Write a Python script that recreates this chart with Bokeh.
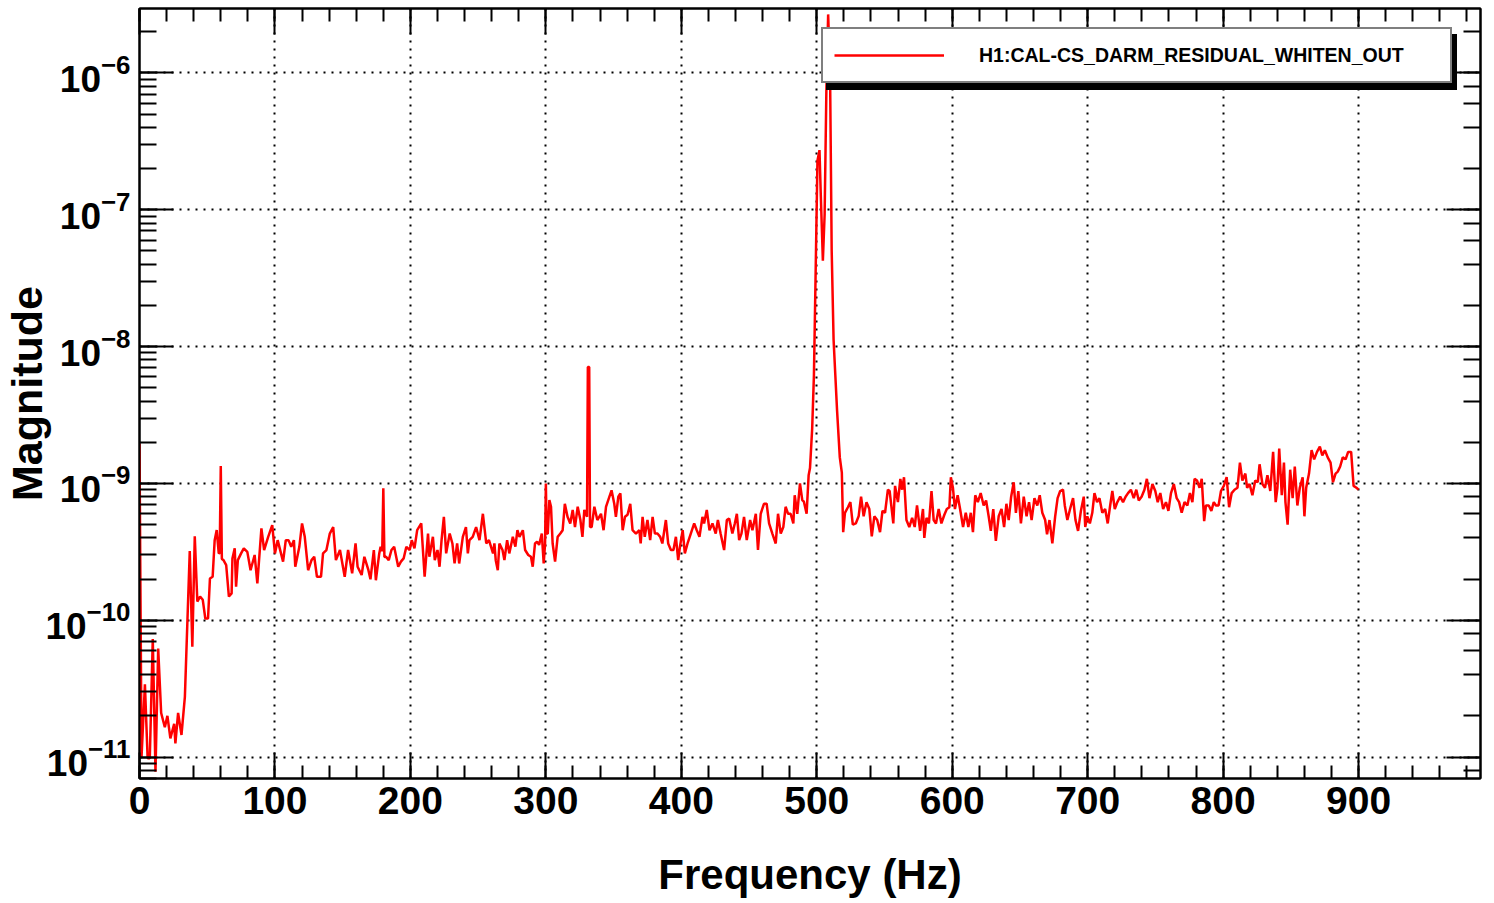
from bokeh.plotting import figure
from bokeh.models import (Range1d, LogAxis, LinearAxis, SingleIntervalTicker, LogTicker,
                          Legend, LegendItem, CustomJSTickFormatter)
from bokeh.embed import file_html
from bokeh.resources import INLINE

# ---------------- data ----------------
CHANNEL = "H1:CAL-CS_DARM_RESIDUAL_WHITEN_OUT"
X_TITLE = "Frequency (Hz)"
Y_TITLE = "Magnitude"
MAG_UNIT = 1e-10  # magnitudes below are in units of 1e-10

FREQ_LOW = [0, 1.5, 4, 6, 7.6, 9.8, 11.8, 13.8, 16, 18.7, 20.6, 22.8, 25.6, 26.5, 28.5, 31, 33.5,
            37.1, 39, 40.8, 42.7, 44.7, 46.7, 48.6, 50.6, 52, 54, 55.5, 57, 58.5, 59.2, 60, 60.8, 62,
            64, 66, 68, 68.6, 70.3, 71.3, 72.6, 75, 77, 79.6, 82, 85, 87, 90, 92, 95, 98, 100,
            102, 106, 108, 110, 112, 114, 115, 118, 120, 122, 124.5, 127, 129, 131, 134, 135.5,
            138, 140.5, 143, 145, 148, 151.5, 154, 157, 159.5, 161, 164, 166, 169, 170.5, 173,
            174.5, 177, 178, 179.2, 180, 180.8, 182, 184, 186, 188, 191, 193, 195, 197, 199.5,
            201, 203, 205, 208]
MAG_LOW = [19.6, 0.10, 0.34, 0.098, 0.098, 0.73, 0.078, 0.62, 0.21, 0.165, 0.20, 0.137, 0.175,
           0.126, 0.21, 0.145, 0.275, 3.2, 0.64, 4.1, 1.37, 1.49, 1.41, 1.03, 1.03, 2.02, 2.08,
           3.85, 4.56, 3.08, 3.1, 13.4, 2.8, 2.75, 2.53, 1.49, 1.57, 2.83, 3.35, 1.76, 2.75, 3.08,
           3.35, 3.16, 2.32, 3.0, 1.86, 4.7, 3.26, 4.07, 4.96, 3.08, 3.85, 2.68, 3.85, 3.85, 3.44,
           3.85, 2.46, 3.44, 5.1, 4.07, 2.32, 2.75, 2.91, 2.08, 2.08, 3.08, 3.26, 4.3, 4.8, 2.75,
           3.26, 2.08, 3.26, 2.2, 3.64, 2.46, 2.14, 2.91, 2.32, 1.99, 3.26, 1.96, 3.08, 3.44,
           3.2, 9.2, 2.9, 2.91, 2.75, 3.26, 3.44, 2.46, 2.68, 2.83, 3.44, 3.26, 3.85, 3.35, 4.56,
           5.1]

FREQ_MID = [210.5, 213, 214, 216.6, 218, 220, 221.5, 223, 224.7, 226.4, 229, 231, 232.6, 234.5,
            236, 238.7, 241, 242.4, 243.6, 246, 248.5, 251, 253.5, 256, 258, 261, 262, 263, 264.5,
            265.7, 268, 269.4, 271.4, 273, 275.6, 277.5, 279, 280.5, 283, 284.7, 287, 289, 290.3,
            292, 293.5, 295, 297, 298.4, 299.4, 300, 300.6, 301.4, 302.6, 303.8, 305, 306.8,
            308.7, 310.7, 312.4, 314, 316, 318, 319.8, 321.5, 323.5, 325.5, 327, 328.4, 330.4,
            331, 332, 332.6, 333.8, 335.8, 338, 340.7, 342.6, 344.4, 346.8, 348.5, 350.5, 351.7,
            353.5, 355, 356.7, 358.4, 360.3, 362.3, 364, 366.5, 369, 370, 371.4, 373, 375, 377,
            378.8, 380.5, 382.4, 384.4, 386, 388.6, 390.3, 392.3, 394.2, 396, 397.7, 399, 401,
            402.6, 404.6, 407, 409.5, 411.4, 413.4, 415.6, 416.8, 418.8, 420.8, 423, 425.4, 427,
            429, 431.6, 433.6, 435.3, 437.7, 439.5, 441, 442.7, 444.4, 446.3, 448.3, 450.8, 452.5,
            455, 456.6, 458.6, 461, 463, 464.8, 467.2, 469.7, 471.4, 473.4, 475.3, 477, 478.8,
            480.7, 482.7, 483.7, 485.6, 487.6, 489.3, 490.5, 492.5]
MAG_MID = [2.08, 4.3, 2.91, 4.07, 2.75, 3.26, 2.46, 3.85, 5.7, 3.08, 4.3, 3.64, 2.6, 3.64, 2.6,
           4.07, 4.8, 3.08, 3.85, 4.07, 4.8, 3.85, 6.0, 3.64, 3.85, 3.08, 3.64, 2.75, 2.32, 3.64,
           3.26, 2.75, 3.85, 3.08, 4.07, 3.45, 4.55, 4.07, 4.55, 3.26, 3.0, 2.91, 2.46, 3.64,
           3.75, 3.55, 4.3, 2.6, 3.6, 10.0, 4.3, 4.3, 7.55, 6.75, 3.64, 2.68, 4.07, 4.3, 4.55,
           7.1, 5.7, 5.1, 6.4, 4.8, 6.75, 5.4, 4.07, 6.4, 5.7, 71, 71, 4.8, 4.8, 6.75, 5.4, 6.0,
           4.55, 6.75, 7.95, 8.9, 7.1, 5.7, 8.0, 8.45, 4.55, 5.7, 5.9, 7.1, 4.55, 4.3, 4.55, 3.64,
           5.7, 4.07, 5.4, 3.85, 5.7, 4.3, 4.3, 4.07, 3.64, 5.4, 3.64, 3.26, 3.26, 4.07, 2.75,
           3.45, 4.55, 3.08, 3.64, 4.3, 5.1, 4.55, 4.07, 5.7, 5.1, 6.4, 4.55, 5.1, 4.3, 5.4, 4.3,
           3.26, 5.4, 5.55, 4.3, 5.1, 6.0, 3.85, 4.3, 5.7, 3.85, 5.4, 4.55, 6.0, 3.26, 6.0, 7.1,
           7.1, 5.1, 4.3, 3.64, 6.0, 4.3, 4.8, 6.75, 6.0, 6.0, 5.1, 8.2, 6.0, 10.0, 7.55, 7.35,
           6.0]

FREQ_PEAK = [494, 495, 496.6, 497.9, 499, 500.5, 502, 503, 504.5, 505.8, 507.1, 508.4, 509.8,
             511, 512.4, 513.7, 515, 517, 518.5, 519.5]
MAG_PEAK = [11.5, 12.95, 25.1, 61.8, 278, 2280, 2730, 1250, 424, 925, 7590, 26800, 10200, 507,
            113, 61.8, 33.9, 15.5, 12.0, 4.4]

FREQ_HIGH = [520.8, 523, 524.8, 526.6, 528.8, 530.9, 532.7, 534.6, 536.7, 538.8, 540.6, 542.5,
             544.6, 546.7, 548.5, 550.4, 552.5, 553.8, 556.5, 557.8, 559.9, 561.7, 563, 564.4,
             566.2, 568.3, 570.4, 572.3, 574, 576.3, 578.4, 579.4, 581, 582.8, 584.7, 586.3, 588,
             590, 592, 594.2, 596, 597.9, 599, 600.5, 602, 604, 605.8, 608, 610, 611.9, 613.7,
             615.3, 617, 618.9, 621, 623.2, 625, 626.9, 628.5, 630.3, 632.2, 634.3, 636.4, 638.3,
             640, 641.7, 643.5, 645.4, 647, 648.8, 650.7, 652.8, 654.9, 656.7, 658.6, 660.7,
             662.8, 664.6, 666.5, 668.6, 670, 671.8, 673.9, 676, 677.8, 679.7, 681.8, 683.1, 685,
             687, 689.2, 691, 692.9, 695, 697.1, 698.2, 699.7, 701.6, 703.4, 705, 706.9, 708.7,
             710.8, 712.9, 714.8, 716.6, 718.2, 720, 721.9, 724, 726.1, 728, 729.8, 731.9, 734,
             735.9, 737.7, 739.8, 741.9, 743.7, 745.6, 747.8, 749.9, 751.7, 753.6, 755.7, 757.8,
             759.6, 761.5, 763.6, 765.7, 767.5, 769.4, 771.5, 773.6, 775.5, 777.3, 778.9, 780.7,
             782.6, 784.2, 786, 787.3, 789.4, 791.3, 793.1, 794.7, 796.6, 798.4, 800.5, 802.6,
             804.4, 806.3, 808.4, 810.6, 812.4, 814.2, 816.4, 817.7, 819.5, 821.6, 823.7, 825.6,
             826.9, 829, 830.9, 832.7, 834.8, 836.9, 838.8, 840.1, 841.4, 843.3, 844.9, 846,
             847.6, 849.5, 851.3, 852.9, 854.8, 856.6, 858.7, 860, 861.3, 863.4, 865.3, 867.2,
             869.3, 871.4, 873.2, 875.1, 877.2, 879.3, 881.1, 883, 884.6, 886.4, 888.3, 890.4,
             892.3, 894.5, 896.3, 898.4, 900]
MAG_HIGH = [6.1, 6.7, 7.3, 5.0, 5.1, 5.75, 8.0, 5.75, 7.3, 6.5, 4.1, 5.75, 5.4, 4.4, 6.3, 6.1,
            9.0, 8.8, 5.1, 9.6, 7.3, 10.8, 9.0, 11.1, 5.4, 4.8, 5.6, 4.8, 6.9, 4.5, 6.5, 4.0, 5.6,
            5.1, 8.8, 5.4, 5.1, 6.5, 5.1, 5.9, 6.5, 6.7, 11.1, 9.3, 6.5, 8.2, 6.5, 4.8, 6.1, 4.8,
            6.1, 4.4, 8.2, 7.3, 8.5, 6.9, 7.5, 5.75, 4.5, 6.5, 3.8, 5.75, 6.5, 4.8, 7.1, 5.4, 8.0,
            10.2, 6.1, 8.8, 5.1, 8.0, 5.75, 7.3, 5.4, 7.8, 6.9, 8.2, 6.1, 5.4, 4.25, 5.4, 3.65,
            5.75, 7.8, 8.8, 9.0, 6.9, 5.4, 6.5, 7.8, 5.4, 4.5, 6.3, 8.0, 4.8, 5.75, 5.1, 6.1, 8.5,
            7.3, 7.8, 6.1, 6.5, 5.1, 6.9, 8.8, 6.5, 7.3, 8.0, 7.3, 8.0, 8.5, 9.0, 7.8, 9.0, 7.5,
            8.0, 9.0, 10.8, 7.8, 9.9, 8.8, 7.3, 8.5, 6.5, 7.3, 6.3, 8.5, 9.9, 7.8, 7.3, 6.1, 7.3,
            6.9, 8.5, 7.3, 10.8, 10.5, 9.3, 10.8, 5.3, 6.9, 6.9, 6.3, 7.3, 6.9, 6.9, 8.8, 9.6,
            11.1, 6.7, 8.5, 9.0, 9.3, 14.2, 10.5, 11.8, 9.3, 9.9, 8.2, 10.5, 10.2, 13.8, 9.9, 9.3,
            11.5, 8.8, 17.0, 7.3, 9.3, 18.0, 8.2, 14.2, 7.3, 5.0, 12.6, 7.8, 13.3, 6.9, 9.3, 11.1,
            5.75, 9.3, 11.8, 17.5, 15.0, 17.0, 18.6, 16.0, 17.5, 15.5, 14.2, 10.2, 11.8, 12.2,
            13.3, 15.5, 15.0, 17.0, 17.0, 9.6, 9.3, 9.0]

X_START, X_END = 0, 990
Y_START, Y_END = 6.97e-12, 2.96e-6

freq = FREQ_LOW + FREQ_MID + FREQ_PEAK + FREQ_HIGH
mag = [m * MAG_UNIT for m in (MAG_LOW + MAG_MID + MAG_PEAK + MAG_HIGH)]

FONT = "Liberation Sans"

p = figure(width=1494, height=903, x_range=Range1d(X_START, X_END),
           y_range=Range1d(Y_START, Y_END), y_axis_type="log",
           output_backend="svg", toolbar_location=None,
           min_border_left=138, min_border_right=14, min_border_top=8, min_border_bottom=125)
p.background_fill_color = "white"
p.border_fill_color = "white"
p.outline_line_color = "black"
p.outline_line_width = 2

line = p.line(freq, mag, line_color="#ff0000", line_width=2.5)
shadow_r = p.line(x=[], y=[], line_color="black", line_width=2)

xaxis = p.xaxis[0]
xaxis.ticker = SingleIntervalTicker(interval=100, num_minor_ticks=5)
yaxis = p.yaxis[0]

for ax in (xaxis, yaxis):
    ax.axis_line_color = "black"
    ax.axis_line_width = 2
    ax.major_tick_line_width = 2
    ax.minor_tick_line_width = 2
    ax.major_tick_out = 0
    ax.minor_tick_out = 0
    ax.major_label_text_font = FONT
    ax.major_label_text_font_style = "bold"
    ax.major_label_text_color = "black"
    ax.axis_label_text_font = FONT
    ax.axis_label_text_font_style = "bold"
    ax.axis_label_text_color = "black"

xaxis.major_tick_in = 26
xaxis.minor_tick_in = 13
xaxis.major_label_text_font_size = "39px"
xaxis.major_label_standoff = 8
xaxis.axis_label = X_TITLE
xaxis.axis_label_text_font_size = "42px"
xaxis.axis_label_standoff = 34

yaxis.major_tick_in = 34
yaxis.minor_tick_in = 17
yaxis.major_label_text_font_size = "37px"
yaxis.major_label_standoff = 9
yaxis.axis_label = Y_TITLE
yaxis.axis_label_text_font_size = "43px"
yaxis.axis_label_standoff = -9

blank = CustomJSTickFormatter(code="return ''")
top = LinearAxis(ticker=SingleIntervalTicker(interval=100, num_minor_ticks=5), formatter=blank,
                 major_tick_in=26, minor_tick_in=13, major_tick_out=0, minor_tick_out=0,
                 major_label_standoff=0, major_label_text_font_size="1px",
                 axis_line_width=2, major_tick_line_width=2, minor_tick_line_width=2)
right = LogAxis(ticker=LogTicker(), formatter=CustomJSTickFormatter(code="return ''"),
                major_tick_in=34, minor_tick_in=17, major_tick_out=0, minor_tick_out=0,
                major_label_standoff=0, major_label_text_font_size="1px",
                axis_line_width=2, major_tick_line_width=2, minor_tick_line_width=2)
p.add_layout(top, "above")
p.add_layout(right, "right")

for g in (p.xgrid[0], p.ygrid[0]):
    g.grid_line_color = "black"
    g.grid_line_width = 2
    g.grid_line_dash = "2 6"
p.ygrid[0].minor_grid_line_color = None

def make_legend(renderer, label, loc, bg, text_color):
    return Legend(items=[LegendItem(label=label, renderers=[renderer])], location=loc,
                  orientation="vertical", background_fill_color=bg, background_fill_alpha=1.0,
                  border_line_color="black", border_line_width=2,
                  label_text_font=FONT, label_text_font_style="bold",
                  label_text_font_size="19.5px", label_text_color=text_color,
                  glyph_width=110, glyph_height=30, label_height=30, label_width=460,
                  label_standoff=35, padding=11, spacing=0, margin=0,
                  click_policy="none")

p.add_layout(make_legend(shadow_r, " ", (687, 688), "black", "black"), "center")
p.add_layout(make_legend(line, CHANNEL, (682, 695), "white", "black"), "center")

open("out.html", "w").write(file_html(p, INLINE))
